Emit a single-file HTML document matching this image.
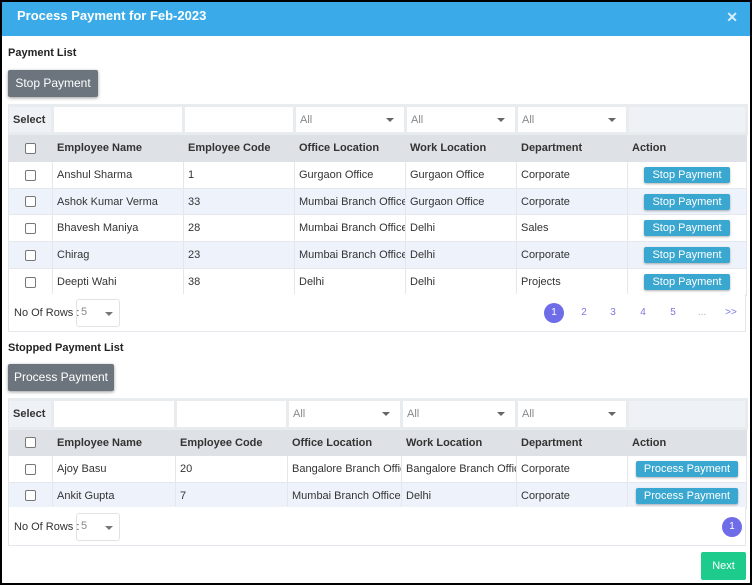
<!DOCTYPE html>
<html><head><meta charset="utf-8"><style>
*{box-sizing:border-box;margin:0;padding:0}
body{width:752px;height:585px;background:#000;font-family:"Liberation Sans",sans-serif;font-size:11px;color:#333;position:relative;overflow:hidden}
#dlg{position:absolute;left:2px;top:2px;width:748px;height:581px;background:#fff}
#hdr{position:absolute;left:0;top:0;width:748px;height:34px;background:#3aabe8;color:#fff;font-weight:bold;font-size:13px;line-height:28px;padding-left:15px}
#close{position:absolute;right:12px;top:0;font-size:14px;color:#d8eefa;line-height:30px}
.abs{position:absolute}
.lbl{font-weight:bold;font-size:11px;color:#222}
.gbtn{position:absolute;background:#6c757d;color:#fff;font-size:12px;border-radius:2px;box-shadow:0 1px 3px rgba(0,0,0,.4);text-align:center}
table{position:absolute;border-collapse:collapse;table-layout:fixed;font-size:11px}
td{border:1px solid #e4e7ec;padding:0 4px;white-space:nowrap;overflow:hidden}
tr.f td{background:#fff;border:3px solid #e9ecef;color:#888}
tr.f td.sel{background:#eef2f7;font-weight:bold;color:#333;border-left:1px solid #e4e7ec}
tr.f td.emp{background:#eef2f7}
tr.h td{background:#dee1e5;font-weight:bold;border-color:#dee1e5}
tr.a td{background:#eef3fb}
td.c{text-align:center}
.cb{display:inline-block;width:11px;height:11px;border:1px solid #777;border-radius:2px;background:#fff;vertical-align:middle}
.dd{position:relative}
.dd:after{content:"";position:absolute;right:10px;top:11px;border:4px solid transparent;border-top:4px solid #666}
.sb{display:inline-block;background:#3aa7d0;color:#fff;font-size:11px;border-radius:2px;padding:2px 0;text-align:center;box-shadow:0 1px 2px rgba(0,0,0,.3)}
.foot{position:absolute;left:6px;border:1px solid #e4e7ec;border-top:none;background:#fff}
.rows{position:absolute;left:5px;color:#333}
.rsel{position:absolute;border:1px solid #e2e2e2;border-radius:3px;width:44px;height:28px;color:#888;padding:6px 4px}
.rsel:after{content:"";position:absolute;right:6px;top:12px;border:4px solid transparent;border-top:4px solid #777}
.pg{position:absolute;color:#7b78e6;font-size:10px;text-align:center;width:20px;line-height:20px}
.pg.on{background:#6f6ce8;color:#fff;border-radius:50%}
</style></head><body>
<div id="dlg">
<div id="hdr">Process Payment for Feb-2023<span id="close">✕</span></div>

<div class="abs lbl" style="left:6px;top:45px">Payment List</div>
<div class="gbtn" style="left:6px;top:68px;width:90px;height:27px;line-height:27px">Stop Payment</div>

<table style="left:6px;top:102px;width:738px">
<colgroup><col style="width:44px"><col style="width:131px"><col style="width:111px"><col style="width:111px"><col style="width:111px"><col style="width:111px"><col style="width:119px"></colgroup>
<tr class="f" style="height:28px"><td class="sel">Select</td><td></td><td></td><td class="dd">All</td><td class="dd">All</td><td class="dd">All</td><td class="emp"></td></tr>
<tr class="h" style="height:28px"><td class="c"><span class="cb"></span></td><td>Employee Name</td><td>Employee Code</td><td>Office Location</td><td>Work Location</td><td>Department</td><td>Action</td></tr>
<tr style="height:27px"><td class="c"><span class="cb"></span></td><td>Anshul Sharma</td><td>1</td><td>Gurgaon Office</td><td>Gurgaon Office</td><td>Corporate</td><td class="c"><span class="sb" style="width:86px">Stop Payment</span></td></tr>
<tr class="a" style="height:26px"><td class="c"><span class="cb"></span></td><td>Ashok Kumar Verma</td><td>33</td><td>Mumbai Branch Office</td><td>Gurgaon Office</td><td>Corporate</td><td class="c"><span class="sb" style="width:86px">Stop Payment</span></td></tr>
<tr style="height:27px"><td class="c"><span class="cb"></span></td><td>Bhavesh Maniya</td><td>28</td><td>Mumbai Branch Office</td><td>Delhi</td><td>Sales</td><td class="c"><span class="sb" style="width:86px">Stop Payment</span></td></tr>
<tr class="a" style="height:27px"><td class="c"><span class="cb"></span></td><td>Chirag</td><td>23</td><td>Mumbai Branch Office</td><td>Delhi</td><td>Corporate</td><td class="c"><span class="sb" style="width:86px">Stop Payment</span></td></tr>
<tr style="height:27px"><td class="c"><span class="cb"></span></td><td>Deepti Wahi</td><td>38</td><td>Delhi</td><td>Delhi</td><td>Projects</td><td class="c"><span class="sb" style="width:86px">Stop Payment</span></td></tr>
</table>
<div class="foot" style="top:292px;width:738px;height:38px">
<span class="rows" style="top:13px">No Of Rows :</span>
<div class="rsel" style="left:67px;top:5px">5</div>
<div class="pg on" style="left:535px;top:9px">1</div>
<div class="pg" style="left:565px;top:9px">2</div>
<div class="pg" style="left:594px;top:9px">3</div>
<div class="pg" style="left:624px;top:9px">4</div>
<div class="pg" style="left:654px;top:9px">5</div>
<div class="pg" style="left:683px;top:9px;color:#aac">...</div>
<div class="pg" style="left:712px;top:9px">&gt;&gt;</div>
</div>

<div class="abs lbl" style="left:6px;top:340px">Stopped Payment List</div>
<div class="gbtn" style="left:6px;top:362px;width:106px;height:27px;line-height:27px">Process Payment</div>

<table style="left:6px;top:396px;width:738px">
<colgroup><col style="width:44px"><col style="width:123px"><col style="width:112px"><col style="width:114px"><col style="width:115px"><col style="width:111px"><col style="width:119px"></colgroup>
<tr class="f" style="height:29px"><td class="sel">Select</td><td></td><td></td><td class="dd">All</td><td class="dd">All</td><td class="dd">All</td><td class="emp"></td></tr>
<tr class="h" style="height:27px"><td class="c"><span class="cb"></span></td><td>Employee Name</td><td>Employee Code</td><td>Office Location</td><td>Work Location</td><td>Department</td><td>Action</td></tr>
<tr style="height:27px"><td class="c"><span class="cb"></span></td><td>Ajoy Basu</td><td>20</td><td>Bangalore Branch Office</td><td>Bangalore Branch Office</td><td>Corporate</td><td class="c"><span class="sb" style="width:102px">Process Payment</span></td></tr>
<tr class="a" style="height:26px"><td class="c"><span class="cb"></span></td><td>Ankit Gupta</td><td>7</td><td>Mumbai Branch Office</td><td>Delhi</td><td>Corporate</td><td class="c"><span class="sb" style="width:102px">Process Payment</span></td></tr>
</table>
<div class="foot" style="top:505px;width:738px;height:39px">
<span class="rows" style="top:14px">No Of Rows :</span>
<div class="rsel" style="left:67px;top:6px">5</div>
<div class="pg on" style="left:713px;top:10px">1</div>
</div>

<div class="abs" style="left:699px;top:550px;width:45px;height:28px;background:#1dcb8c;color:#fff;font-size:11px;line-height:28px;text-align:center;border-radius:2px">Next</div>
</div>
</body></html>
